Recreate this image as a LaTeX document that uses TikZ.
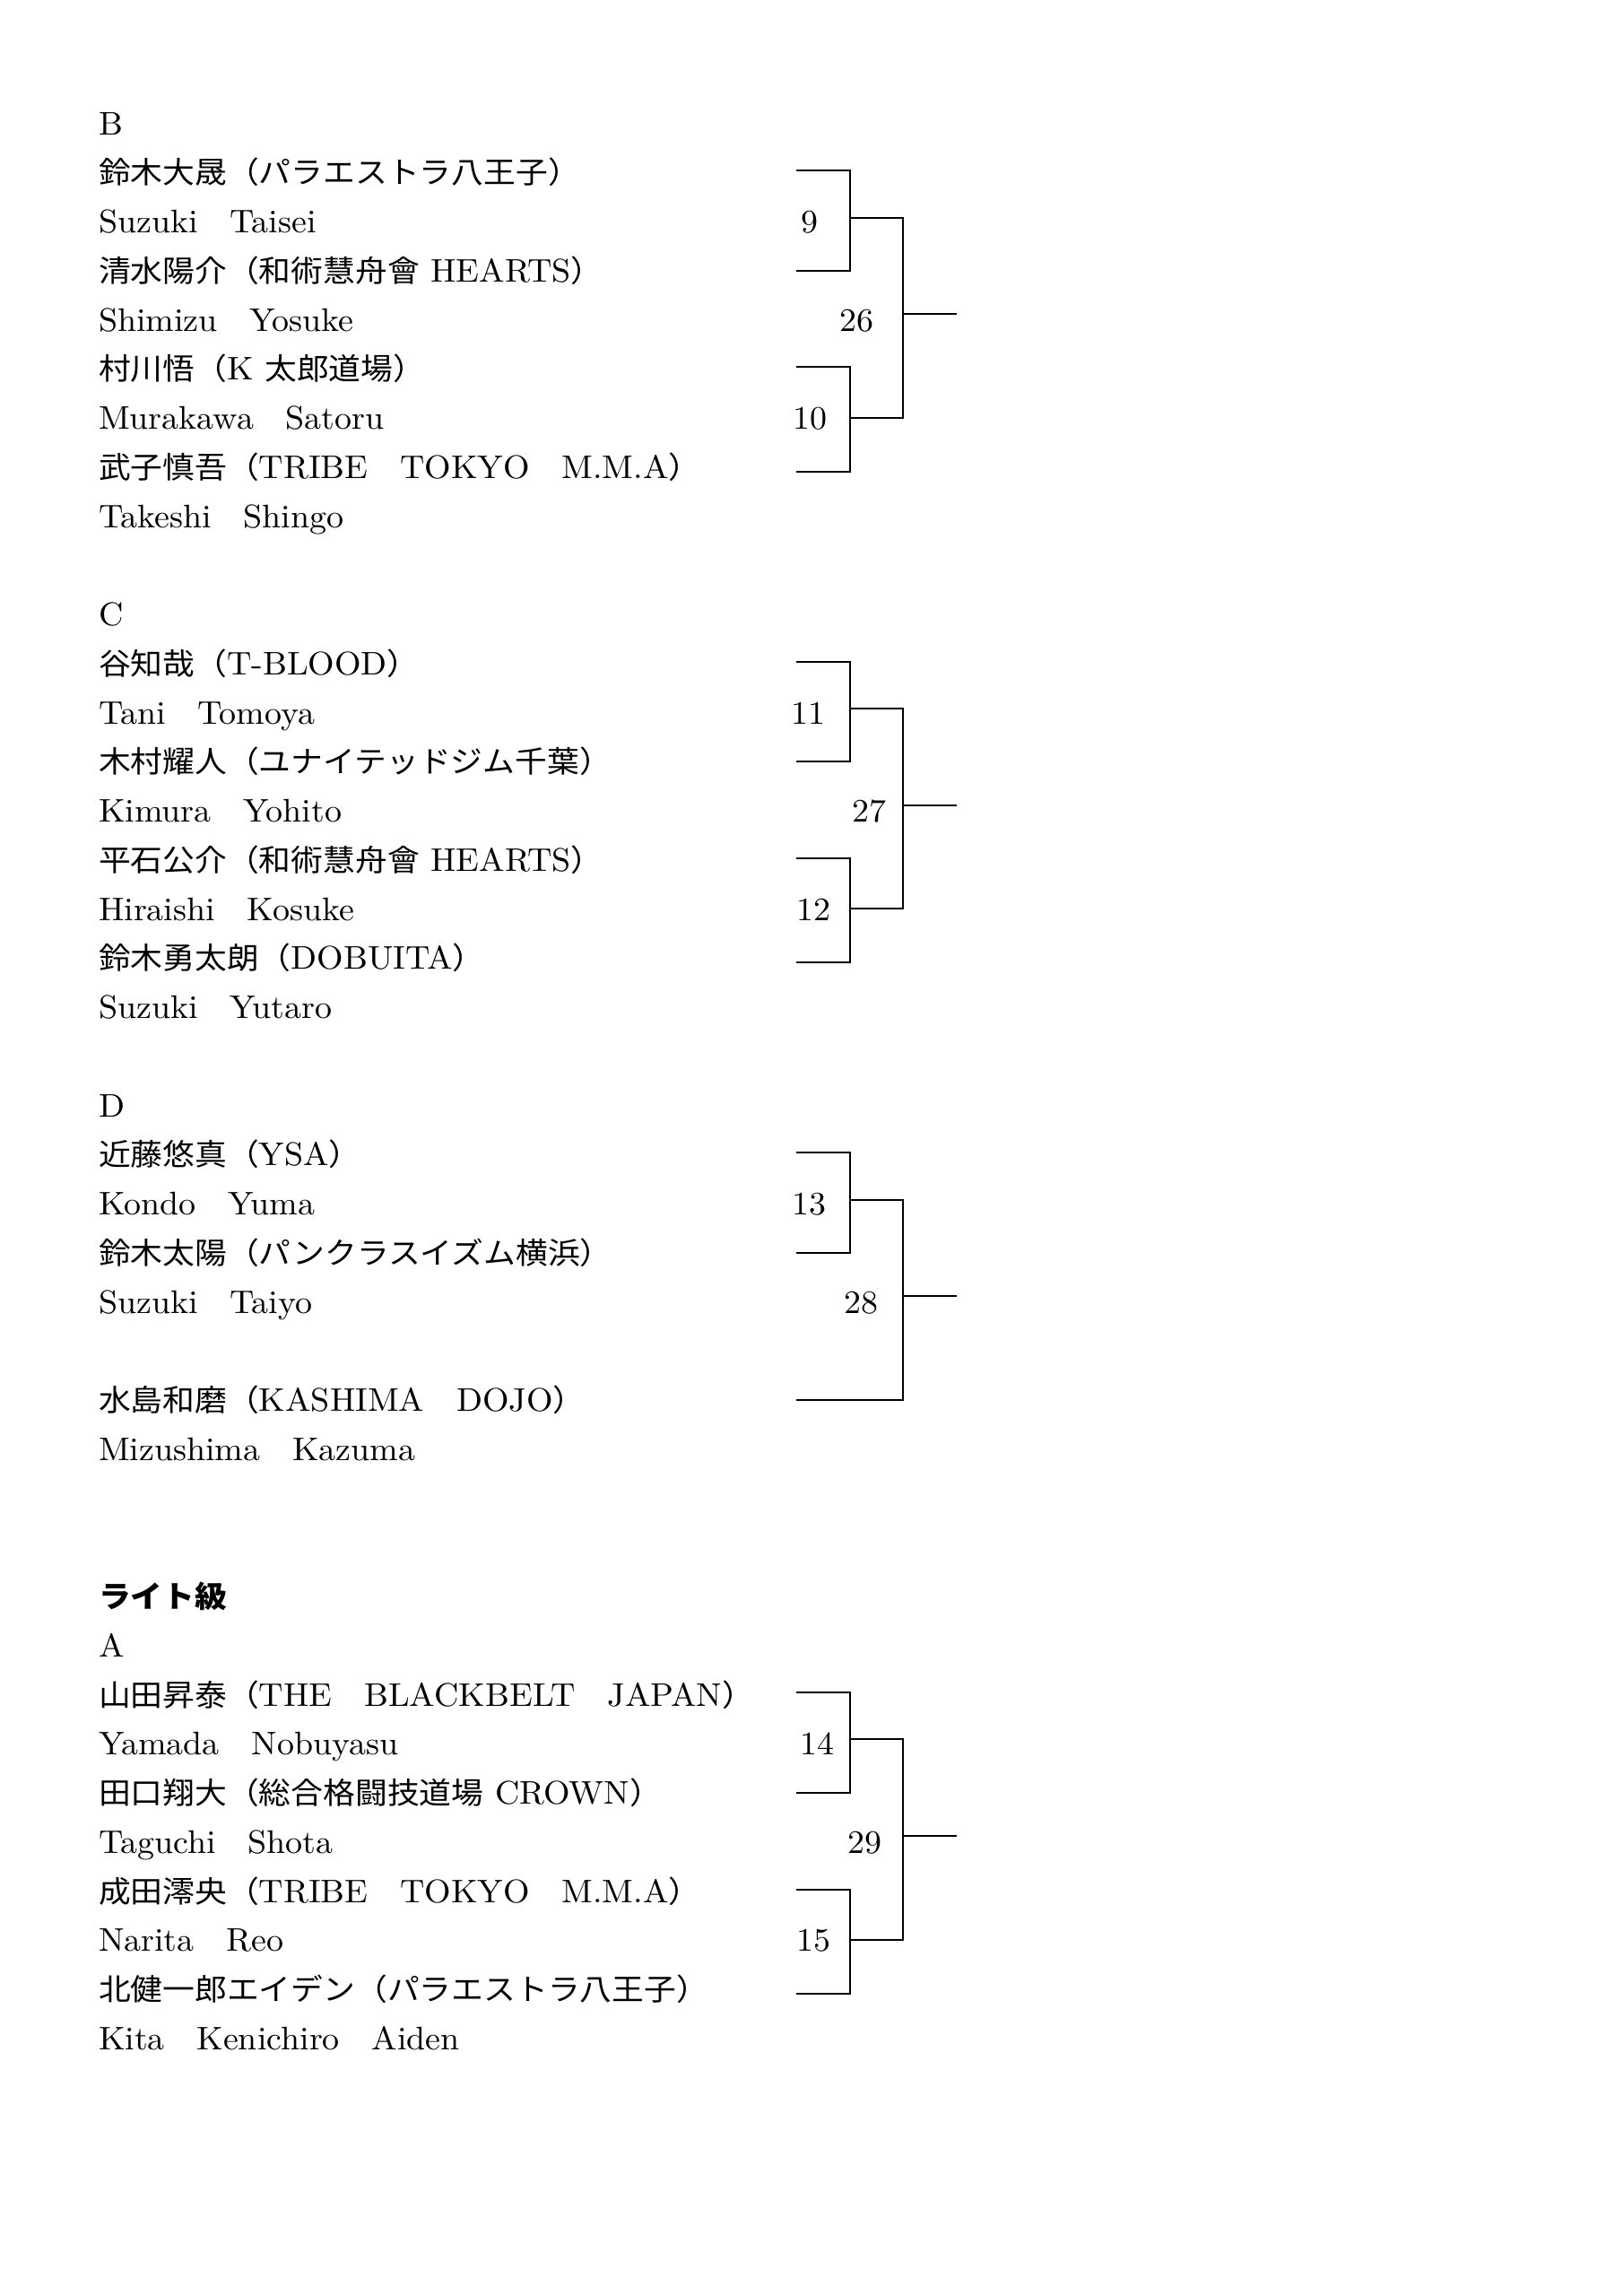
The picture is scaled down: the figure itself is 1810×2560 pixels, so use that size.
\documentclass[tikz,border=0pt]{standalone}
\usepackage{fontspec}
\setmainfont{lmroman10-regular.otf}[FakeStretch=1.04]
\newfontfamily\jp{Noto Sans CJK JP}[FakeStretch=1.07]
\newcommand\J[1]{{\jp\fontsize{11}{13}\selectfont #1}}
\newcommand\Zs{\J{　}}
\newcommand\Line[3]{\node[txt] (#1) at (110,{150+54.75*#2}) {#3};}
\begin{document}
\begin{tikzpicture}[x=0.32890pt,y=-0.32890pt,
  txt/.style={anchor=base west,inner sep=0pt,outer sep=0pt,font=\fontsize{12}{14}\selectfont},
  num/.style={anchor=base,inner sep=0pt,outer sep=0pt,font=\fontsize{12}{14}\selectfont},
  br/.style={line width=0.65pt,black}]
\fill[white] (0,0) rectangle (1810,2560);
\useasboundingbox (0,0) rectangle (1810,2560);

% ---- B ----
\Line{b0}{0}{B}
\Line{b1}{1}{\J{鈴木大晟（パラエストラ八王子）}}
\Line{b2}{2}{Suzuki\Zs Taisei}
\Line{b3}{3}{\J{清水陽介（和術慧舟會} HEARTS\J{）}}
\Line{b4}{4}{Shimizu\Zs Yosuke}
\Line{b5}{5}{\J{村川悟（}K \J{太郎道場）}}
\Line{b6}{6}{Murakawa\Zs Satoru}
\Line{b7}{7}{\J{武子慎吾（}TRIBE\Zs TOKYO\Zs M.M.A\J{）}}
\Line{b8}{8}{Takeshi\Zs Shingo}

% ---- C ----
\Line{c0}{10}{C}
\Line{c1}{11}{\J{谷知哉（}T-BLOOD\J{）}}
\Line{c2}{12}{Tani\Zs Tomoya}
\Line{c3}{13}{\J{木村耀人（ユナイテッドジム千葉）}}
\Line{c4}{14}{Kimura\Zs Yohito}
\Line{c5}{15}{\J{平石公介（和術慧舟會} HEARTS\J{）}}
\Line{c6}{16}{Hiraishi\Zs Kosuke}
\Line{c7}{17}{\J{鈴木勇太朗（}DOBUITA\J{）}}
\Line{c8}{18}{Suzuki\Zs Yutaro}

% ---- D ----
\Line{d0}{20}{D}
\Line{d1}{21}{\J{近藤悠真（}YSA\J{）}}
\Line{d2}{22}{Kondo\Zs Yuma}
\Line{d3}{23}{\J{鈴木太陽（パンクラスイズム横浜）}}
\Line{d4}{24}{Suzuki\Zs Taiyo}
\Line{d5}{26}{\J{水島和磨（}KASHIMA\Zs DOJO\J{）}}
\Line{d6}{27}{Mizushima\Zs Kazuma}

% ---- Light ----
\Line{lh}{30}{\J{\bfseries ライト級}}
\Line{a0}{31}{A}
\Line{a1}{32}{\J{山田昇泰（}THE\Zs BLACKBELT\Zs JAPAN\J{）}}
\Line{a2}{33}{Yamada\Zs Nobuyasu}
\Line{a3}{34}{\J{田口翔大（総合格闘技道場} CROWN\J{）}}
\Line{a4}{35}{Taguchi\Zs Shota}
\Line{a5}{36}{\J{成田澪央（}TRIBE\Zs TOKYO\Zs M.M.A\J{）}}
\Line{a6}{37}{Narita\Zs Reo}
\Line{a7}{38}{\J{北健一郎エイデン（パラエストラ八王子）}}
\Line{a8}{39}{Kita\Zs Kenichiro\Zs Aiden}

% ---- brackets B ----
\coordinate (B1t) at (888,190); \coordinate (B1b) at (888,302);
\coordinate (B2t) at (888,409); \coordinate (B2b) at (888,526);
\draw[br] (B1t) -- (948,190) -- (948,302) -- (B1b);
\draw[br] (B2t) -- (948,409) -- (948,526) -- (B2b);
\draw[br] (948,243) -- (1007,243) -- (1007,466) -- (948,466);
\draw[br] (1007,350) -- (1067,350);
\node[num] (n9) at (903,{150+54.75*2}) {9};
\node[num] (n26) at (955,{150+54.75*4}) {26};
\node[num] (n10) at (903,{150+54.75*6}) {10};

% ---- brackets C ----
\coordinate (C1t) at (888,738); \coordinate (C1b) at (888,849);
\coordinate (C2t) at (888,957); \coordinate (C2b) at (888,1073);
\draw[br] (C1t) -- (948,738) -- (948,849) -- (C1b);
\draw[br] (C2t) -- (948,957) -- (948,1073) -- (C2b);
\draw[br] (948,790) -- (1007,790) -- (1007,1013) -- (948,1013);
\draw[br] (1007,898) -- (1067,898);
\node[num] (n11) at (901,{150+54.75*12}) {11};
\node[num] (n27) at (969,{150+54.75*14}) {27};
\node[num] (n12) at (907,{150+54.75*16}) {12};

% ---- brackets D ----
\coordinate (D1t) at (888,1285); \coordinate (D1b) at (888,1397);
\coordinate (D2) at (888,1561);
\draw[br] (D1t) -- (948,1285) -- (948,1397) -- (D1b);
\draw[br] (948,1338) -- (1007,1338) -- (1007,1561) -- (D2);
\draw[br] (1007,1445) -- (1067,1445);
\node[num] (n13) at (902,{150+54.75*22}) {13};
\node[num] (n28) at (960,{150+54.75*24}) {28};

% ---- brackets A ----
\coordinate (A1t) at (888,1887); \coordinate (A1b) at (888,1999);
\coordinate (A2t) at (888,2107); \coordinate (A2b) at (888,2223);
\draw[br] (A1t) -- (948,1887) -- (948,1999) -- (A1b);
\draw[br] (A2t) -- (948,2107) -- (948,2223) -- (A2b);
\draw[br] (948,1939) -- (1007,1939) -- (1007,2163) -- (948,2163);
\draw[br] (1007,2047) -- (1067,2047);
\node[num] (n14) at (911,{150+54.75*33}) {14};
\node[num] (n29) at (964,{150+54.75*35}) {29};
\node[num] (n15) at (907,{150+54.75*37}) {15};
\end{tikzpicture}
\end{document}
